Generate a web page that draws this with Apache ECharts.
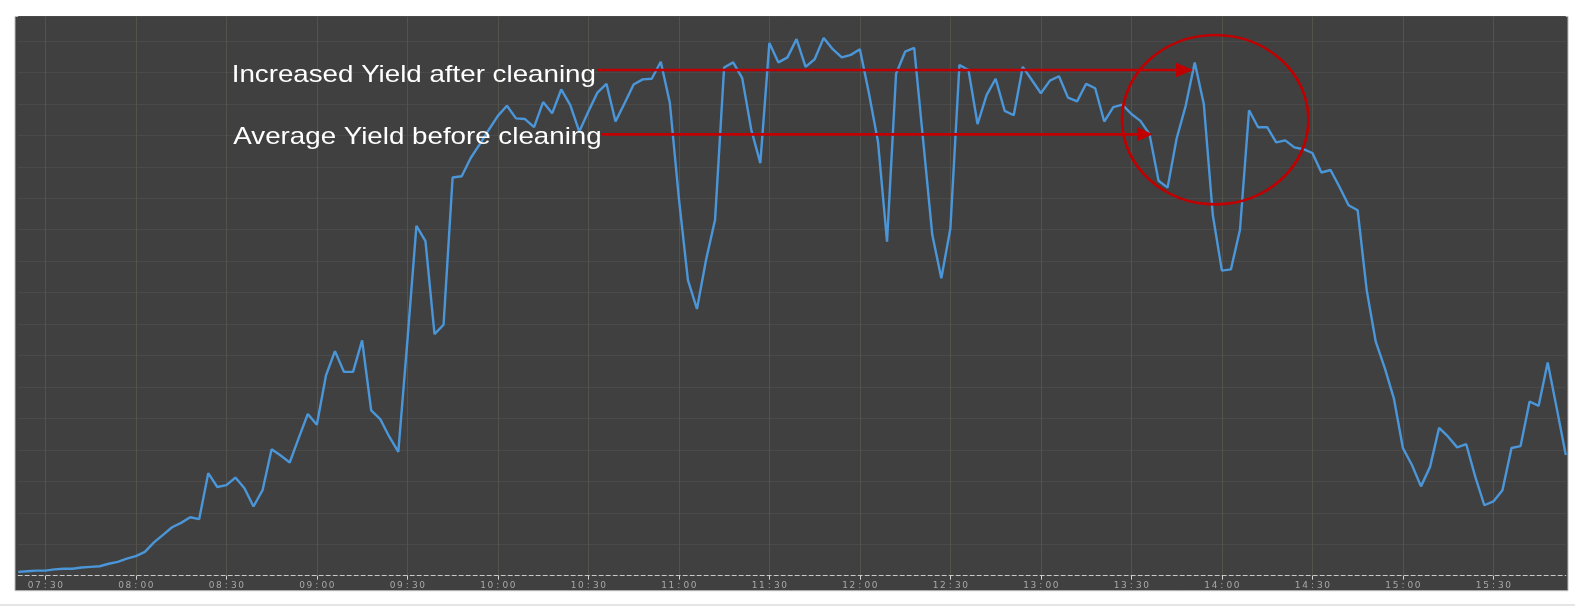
<!DOCTYPE html>
<html>
<head>
<meta charset="utf-8">
<title>Yield before and after cleaning</title>
<script src="https://cdn.jsdelivr.net/npm/echarts@6/dist/echarts.min.js"></script>
<style>
  html, body { margin: 0; padding: 0; background: #fff; }
  #chart { width: 1575px; height: 606px; }
</style>
</head>
<body>
<div id="chart"></div>
<script>
// one sample every 3 minutes, first one at 07:21
const startMinute = 7 * 60 + 21
const stepMinutes = 3

const tickTimes = ['07:30', '08:00', '08:30', '09:00', '09:30', '10:00', '10:30', '11:00',
  '11:30', '12:00', '12:30', '13:00', '13:30', '14:00', '14:30', '15:00', '15:30']

// yield
const yieldValues = [
  0.6, 0.7, 0.8, 0.8, 1.0, 1.1, 1.1, 1.3, 1.4, 1.5,
  1.9, 2.2, 2.7, 3.1, 3.8, 5.3, 6.5, 7.7, 8.4, 9.3,
  9.0, 16.3, 14.1, 14.4, 15.6, 13.9, 11.0, 13.6, 20.1, 19.1,
  18.0, 21.9, 25.7, 24.0, 31.8, 35.7, 32.4, 32.4, 37.4, 26.3,
  24.9, 22.1, 19.7, 37.3, 55.6, 53.2, 38.4, 39.9, 63.3, 63.5,
  66.4, 68.6, 70.9, 73.1, 74.7, 72.7, 72.6, 71.3, 75.3, 73.5,
  77.3, 74.8, 70.6, 73.8, 76.8, 78.2, 72.2, 75.1, 78.1, 78.9,
  79.0, 81.7, 75.2, 60.0, 47.0, 42.4, 50.2, 56.6, 80.8, 81.6,
  79.1, 70.9, 65.6, 84.7, 81.6, 82.4, 85.3, 80.9, 82.1, 85.5,
  83.7, 82.4, 82.8, 83.7, 76.7, 69.0, 53.1, 79.8, 83.3, 83.9,
  69.1, 54.2, 47.3, 55.2, 81.2, 80.4, 71.8, 76.4, 79.0, 73.9,
  73.2, 80.9, 78.8, 76.7, 78.7, 79.4, 76.0, 75.4, 78.2, 77.5,
  72.2, 74.5, 74.9, 73.4, 72.3, 70.2, 62.8, 61.7, 69.5, 74.7,
  81.6, 75.0, 57.3, 48.5, 48.7, 55.0, 74.0, 71.3, 71.3, 68.9,
  69.2, 68.1, 67.8, 67.2, 64.1, 64.5, 61.8, 58.9, 58.1, 45.4,
  37.2, 33.0, 28.2, 20.3, 17.6, 14.2, 17.3, 23.5, 22.1, 20.4,
  20.9, 15.7, 11.2, 11.8, 13.6, 20.3, 20.6, 27.7, 27.0, 33.9,
  26.6, 19.2
]

const pad = n => (n < 10 ? '0' : '') + n
const timeLabels = yieldValues.map((v, i) => {
  const m = startMinute + i * stepMinutes
  return pad(Math.floor(m / 60)) + ':' + pad(m % 60)
})

const showTick = (index, value) => tickTimes.indexOf(value) !== -1

const red = '#c00000'

const chart = echarts.init(document.getElementById('chart'))

chart.setOption({
  backgroundColor: '#ffffff',
  animation: false,
  grid: {
    left: 18.2,
    right: 9.2,
    top: 16.5,
    bottom: 30.3
  },
  xAxis: {
    type: 'category',
    data: timeLabels,
    boundaryGap: false,
    axisLine: {
      lineStyle: { color: '#c8c8c8', width: 1, type: [4, 3] }
    },
    axisTick: {
      interval: showTick,
      length: 4,
      lineStyle: { color: '#d4d4d4' }
    },
    axisLabel: {
      interval: showTick,
      margin: 5,
      // spread the characters out, the labels in the picture are stretched wide
      formatter: value => value.split('').map(ch => '{d|' + ch + '}').join(''),
      rich: {
        d: {
          width: 7.4,
          align: 'center',
          fontSize: 9,
          lineHeight: 9,
          fontFamily: 'DejaVu Sans',
          color: '#a8a8a8'
        }
      }
    },
    splitLine: {
      show: true,
      interval: showTick,
      lineStyle: { color: '#53524c', width: 1 }
    }
  },
  yAxis: {
    type: 'value',
    min: 0,
    max: 88.9,
    interval: 5,
    axisLine: { show: false },
    axisTick: { show: false },
    axisLabel: { show: false },
    splitLine: {
      lineStyle: { color: '#4a4a4a', width: 1 }
    }
  },
  series: [
    {
      name: 'Yield',
      type: 'line',
      data: yieldValues,
      symbol: 'none',
      lineStyle: { color: '#4b96d8', width: 2.4 },
      itemStyle: { color: '#4b96d8' }
    }
  ],
  graphic: [
    {
      // dark panel behind the plot
      type: 'rect',
      z: -10,
      silent: true,
      shape: { x: 15, y: 16.5, width: 1553, height: 574.2 },
      style: { fill: '#404040', stroke: '#bcbcbc', lineWidth: 1 }
    },
    {
      type: 'line',
      z: -10,
      silent: true,
      shape: { x1: 0, y1: 605, x2: 1575, y2: 605 },
      style: { stroke: '#e6e6e6', lineWidth: 2 }
    },
    {
      type: 'text',
      z: 100,
      x: 231.7,
      y: 75,
      scaleX: 1.155,
      style: {
        text: 'Increased Yield after cleaning',
        fill: '#ffffff',
        font: '24px "Liberation Sans", Arial, sans-serif',
        textAlign: 'left',
        textVerticalAlign: 'middle',
        align: 'left',
        verticalAlign: 'middle'
      }
    },
    {
      type: 'text',
      z: 100,
      x: 233.3,
      y: 137.7,
      scaleX: 1.155,
      style: {
        text: 'Average Yield before cleaning',
        fill: '#ffffff',
        font: '24px "Liberation Sans", Arial, sans-serif',
        textAlign: 'left',
        textVerticalAlign: 'middle',
        align: 'left',
        verticalAlign: 'middle'
      }
    },
    {
      type: 'line',
      z: 100,
      shape: { x1: 597, y1: 70, x2: 1180, y2: 70 },
      style: { stroke: red, lineWidth: 2.7 }
    },
    {
      type: 'polygon',
      z: 100,
      shape: { points: [[1176, 62.7], [1193.3, 70], [1176, 77.3]] },
      style: { fill: red }
    },
    {
      type: 'line',
      z: 100,
      shape: { x1: 601, y1: 134.3, x2: 1140, y2: 134.3 },
      style: { stroke: red, lineWidth: 2.7 }
    },
    {
      type: 'polygon',
      z: 100,
      shape: { points: [[1137, 127], [1152.7, 134.3], [1137, 141.6]] },
      style: { fill: red }
    },
    {
      type: 'ellipse',
      z: 100,
      shape: { cx: 1215.2, cy: 119.7, rx: 93.2, ry: 84.7 },
      style: { fill: 'none', stroke: red, lineWidth: 2.7 }
    }
  ]
})
</script>
</body>
</html>
